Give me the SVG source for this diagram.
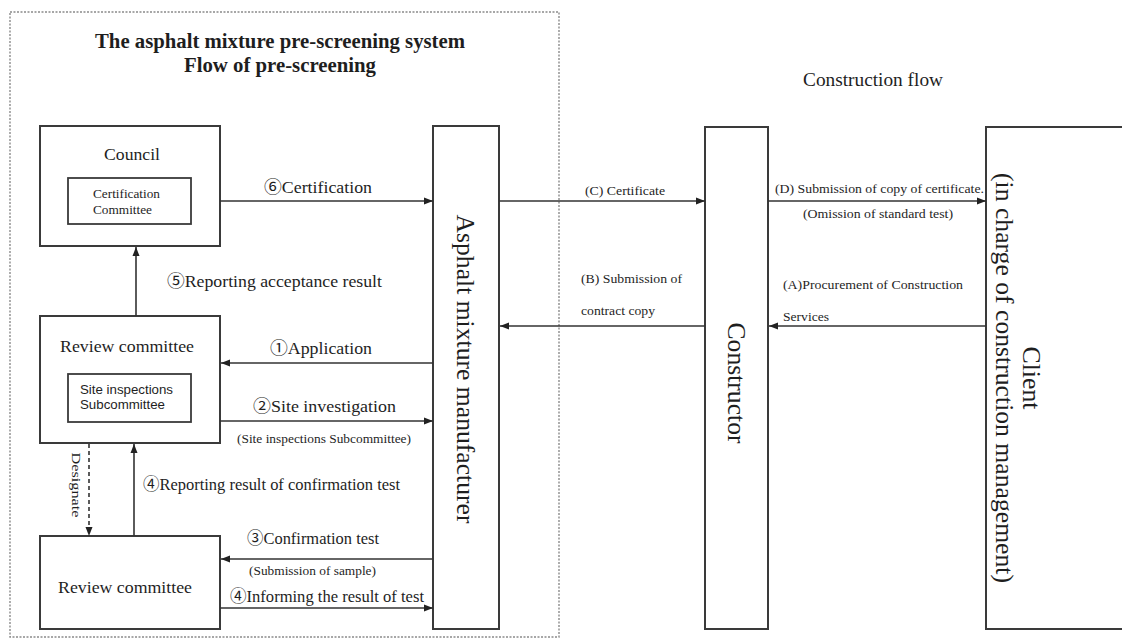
<svg xmlns="http://www.w3.org/2000/svg" width="1122" height="639" viewBox="0 0 1122 639">
  <style>
    .box { fill: #fff; stroke: #3a3a3a; stroke-width: 2; }
    .inner { fill: #fff; stroke: #3a3a3a; stroke-width: 1.8; }
    .frame { fill: none; stroke: #8a8a8a; stroke-width: 1.4; stroke-dasharray: 2 1.5; }
    .conn { fill: none; stroke: #333; stroke-width: 1.6; }
    .dash { stroke-dasharray: 4 3; }
    .t { font-family: "Liberation Serif", "Noto Sans CJK JP", serif; fill: #1e1e1e; }
    .title { font-weight: bold; font-size: 20px; text-anchor: middle; }
    .lbl { font-size: 17px; }
    .sm { font-size: 13px; }
    .vert { font-size: 25px; text-anchor: middle; }
    .sans { font-family: "Liberation Sans", Arial, sans-serif; font-size: 13px; fill: #1e1e1e; }
  </style>
  <defs>
    <marker id="arrow" markerWidth="9" markerHeight="8" refX="9" refY="4" orient="auto" markerUnits="userSpaceOnUse">
      <path d="M0,0.5 L9,4 L0,7.5 z" fill="#222"/>
    </marker>
  </defs>

  <rect width="1122" height="639" fill="#fff"/>

  <!-- pre-screening system frame -->
  <rect class="frame" x="10" y="12" width="549" height="625"/>
  <text class="t title" x="280" y="48" textLength="370" lengthAdjust="spacingAndGlyphs">The asphalt mixture pre-screening system</text>
  <text class="t title" x="280" y="72" textLength="192" lengthAdjust="spacingAndGlyphs">Flow of pre-screening</text>
  <text class="t" x="873" y="86" font-size="19" text-anchor="middle" textLength="140" lengthAdjust="spacingAndGlyphs">Construction flow</text>

  <!-- nodes -->
  <g id="council">
    <rect class="box" x="40" y="126" width="180" height="120"/>
    <text class="t lbl" x="132" y="160" text-anchor="middle" textLength="56" lengthAdjust="spacingAndGlyphs">Council</text>
    <rect class="inner" x="68" y="178" width="123" height="46"/>
    <text class="t sm" x="93" y="198" textLength="67" lengthAdjust="spacingAndGlyphs">Certification</text>
    <text class="t sm" x="93" y="214" textLength="59" lengthAdjust="spacingAndGlyphs">Committee</text>
  </g>

  <g id="review-committee-1">
    <rect class="box" x="40" y="316" width="180" height="127"/>
    <text class="t lbl" x="60" y="352" textLength="134" lengthAdjust="spacingAndGlyphs">Review committee</text>
    <rect class="inner" x="68" y="374" width="123" height="48"/>
    <text class="sans" x="80" y="394" textLength="93" lengthAdjust="spacingAndGlyphs">Site inspections</text>
    <text class="sans" x="80" y="409" textLength="85" lengthAdjust="spacingAndGlyphs">Subcommittee</text>
  </g>

  <g id="review-committee-2">
    <rect class="box" x="40" y="536" width="180" height="93"/>
    <text class="t lbl" x="58" y="593" textLength="134" lengthAdjust="spacingAndGlyphs">Review committee</text>
  </g>

  <g id="manufacturer">
    <rect class="box" x="433" y="126" width="66" height="503"/>
    <text class="t vert" transform="translate(466,369) rotate(90)" y="9" textLength="309" lengthAdjust="spacingAndGlyphs">Asphalt mixture manufacturer</text>
  </g>

  <g id="constructor">
    <rect class="box" x="705" y="127" width="63" height="502"/>
    <text class="t vert" transform="translate(737,383) rotate(90)" y="9" textLength="121" lengthAdjust="spacingAndGlyphs">Constructor</text>
  </g>

  <g id="client">
    <rect class="box" x="986" y="127" width="150" height="502"/>
    <text class="t vert" transform="translate(1032,378) rotate(90)" y="9" textLength="63" lengthAdjust="spacingAndGlyphs">Client</text>
    <text class="t vert" transform="translate(1005,378) rotate(90)" y="9" textLength="410" lengthAdjust="spacingAndGlyphs">(in charge of construction management)</text>
  </g>

  <!-- connectors -->
  <g id="connectors">
    <line class="conn" x1="220" y1="201" x2="433" y2="201" marker-end="url(#arrow)"/>
    <line class="conn" x1="136" y1="316" x2="136" y2="247" marker-end="url(#arrow)"/>
    <line class="conn" x1="433" y1="363" x2="221" y2="363" marker-end="url(#arrow)"/>
    <line class="conn" x1="220" y1="421" x2="433" y2="421" marker-end="url(#arrow)"/>
    <line class="conn dash" x1="89" y1="444" x2="89" y2="536" marker-end="url(#arrow)"/>
    <line class="conn" x1="134" y1="536" x2="134" y2="444" marker-end="url(#arrow)"/>
    <line class="conn" x1="433" y1="559" x2="221" y2="559" marker-end="url(#arrow)"/>
    <line class="conn" x1="220" y1="608" x2="433" y2="608" marker-end="url(#arrow)"/>
    <line class="conn" x1="499" y1="201" x2="705" y2="201" marker-end="url(#arrow)"/>
    <line class="conn" x1="768" y1="201" x2="986" y2="201" marker-end="url(#arrow)"/>
    <line class="conn" x1="705" y1="326" x2="500" y2="326" marker-end="url(#arrow)"/>
    <line class="conn" x1="986" y1="326" x2="769" y2="326" marker-end="url(#arrow)"/>

    <!-- connector labels -->
    <text class="t lbl" x="264" y="193" textLength="108" lengthAdjust="spacingAndGlyphs">⑥Certification</text>
    <text class="t lbl" x="167" y="287" textLength="215" lengthAdjust="spacingAndGlyphs">⑤Reporting acceptance result</text>
    <text class="t lbl" x="270" y="354" textLength="102" lengthAdjust="spacingAndGlyphs">①Application</text>
    <text class="t lbl" x="253" y="412" textLength="143" lengthAdjust="spacingAndGlyphs">②Site investigation</text>
    <text class="t sm" x="237" y="443" textLength="174" lengthAdjust="spacingAndGlyphs">(Site inspections Subcommittee)</text>
    <text class="t sm" transform="translate(76,485) rotate(90)" y="4" text-anchor="middle" textLength="65" lengthAdjust="spacingAndGlyphs">Designate</text>
    <text class="t lbl" x="143" y="490" textLength="257" lengthAdjust="spacingAndGlyphs">④Reporting result of confirmation test</text>
    <text class="t lbl" x="247" y="544" textLength="132" lengthAdjust="spacingAndGlyphs">③Confirmation test</text>
    <text class="t sm" x="249" y="575" textLength="127" lengthAdjust="spacingAndGlyphs">(Submission of sample)</text>
    <text class="t lbl" x="230" y="602" textLength="194" lengthAdjust="spacingAndGlyphs">④Informing the result of test</text>
    <text class="t sm" x="585" y="195" textLength="80" lengthAdjust="spacingAndGlyphs">(C) Certificate</text>
    <text class="t sm" x="775" y="193" textLength="209" lengthAdjust="spacingAndGlyphs">(D) Submission of copy of certificate.</text>
    <text class="t sm" x="803" y="218" textLength="150" lengthAdjust="spacingAndGlyphs">(Omission of standard test)</text>
    <text class="t sm" x="581" y="283" textLength="101" lengthAdjust="spacingAndGlyphs">(B) Submission of</text>
    <text class="t sm" x="581" y="315" textLength="74" lengthAdjust="spacingAndGlyphs">contract copy</text>
    <text class="t sm" x="783" y="289" textLength="180" lengthAdjust="spacingAndGlyphs">(A)Procurement of Construction</text>
    <text class="t sm" x="783" y="321" textLength="46" lengthAdjust="spacingAndGlyphs">Services</text>
  </g>
</svg>
